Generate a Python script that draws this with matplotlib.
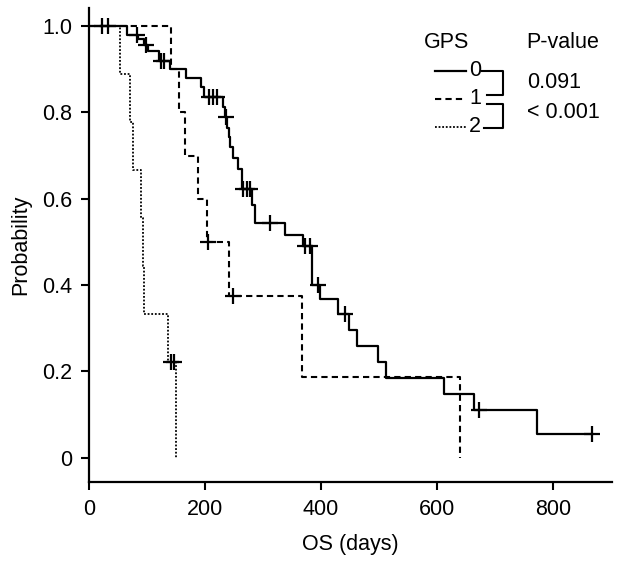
import matplotlib
matplotlib.use('Agg')
import matplotlib.pyplot as plt
from matplotlib.lines import Line2D

plt.rcParams['font.family'] = ['Liberation Sans', 'DejaVu Sans']

# Kaplan-Meier steps (days, survival after the event)
times0 = [0, 65, 85, 95, 101, 120, 140, 167, 194, 198, 232, 235, 238, 241, 244, 248,
          257, 264, 282, 287, 338, 370, 384, 398, 430, 448, 462, 499, 513, 612, 664, 772, 867]
surv0 = [1.0, 0.98, 0.97, 0.957, 0.943, 0.92, 0.90, 0.88, 0.858, 0.836, 0.812, 0.79, 0.765,
         0.742, 0.719, 0.695, 0.67, 0.622, 0.585, 0.545, 0.517, 0.49, 0.40, 0.367, 0.332,
         0.297, 0.258, 0.222, 0.185, 0.148, 0.111, 0.055, 0.055]
censor0 = [22, 33, 82, 98, 125, 130, 207, 214, 220, 236, 265, 272, 278, 312, 372, 381,
           395, 441, 672, 867]

times1 = [0, 141, 156, 165, 188, 203, 242, 367, 640]
surv1 = [1.0, 0.9, 0.8, 0.7, 0.6, 0.5, 0.375, 0.1875, 0.0]
censor1 = [206, 248]

times2 = [0, 53, 70, 76, 90, 94, 95, 137, 150]
surv2 = [1.0, 0.889, 0.778, 0.667, 0.556, 0.444, 0.333, 0.222, 0.0]
censor2 = [141, 146]

groups = ['0', '1', '2']
p_values = ['0.091', '< 0.001']

FS = 15.5


def surv_at(times, surv, t):
    val = surv[0]
    for ti, si in zip(times, surv):
        if ti <= t:
            val = si
    return val


fig = plt.figure(figsize=(6.2, 5.61), dpi=100)
ax = fig.add_axes([0.1435, 0.1408, 0.8435, 0.845])

styles = [
    dict(color='black', lw=1.6, ls='-'),
    dict(color='black', lw=1.5, ls=(0, (3, 2))),
    dict(color='black', lw=1.3, ls=(0, (1, 1))),
]
data = [(times0, surv0, censor0), (times1, surv1, censor1), (times2, surv2, censor2)]

for (t, s, c), st in zip(data, styles):
    ax.step(t, s, where='post', **st)
    cy = [surv_at(t, s, ci) for ci in c]
    ax.plot(c, cy, ls='none', marker='+', ms=11, mew=1.6, color='black')

ax.set_xlim(0, 902)
ax.set_ylim(-0.056, 1.042)
ax.set_xticks([0, 200, 400, 600, 800])
ax.set_yticks([0, 0.2, 0.4, 0.6, 0.8, 1.0])
ax.set_yticklabels(['0', '0.2', '0.4', '0.6', '0.8', '1.0'])
ax.tick_params(direction='out', length=6, width=1.5, labelsize=FS, pad=6)
for side in ['top', 'right']:
    ax.spines[side].set_visible(False)
for side in ['left', 'bottom']:
    ax.spines[side].set_linewidth(1.6)
ax.set_xlabel('OS (days)', fontsize=FS, labelpad=10)
ax.set_ylabel('Probability', fontsize=FS, labelpad=8)


# legend drawn in figure pixel coordinates
W, H = 620, 561


def fx(x):
    return x / W


def fy(y):
    return 1 - y / H


fig.text(fx(447), fy(42), 'GPS', ha='center', va='center', fontsize=FS)
fig.text(fx(563), fy(42), 'P-value', ha='center', va='center', fontsize=FS)

rows_y = [71, 99, 127]
for lab, yy, st in zip(groups, rows_y, styles):
    fig.add_artist(Line2D([fx(435), fx(466)], [fy(yy), fy(yy)], transform=fig.transFigure, **st))
    fig.text(fx(475), fy(yy), lab, ha='center', va='center', fontsize=FS)

bk = dict(color='black', lw=1.5, transform=fig.transFigure)
fig.add_artist(Line2D([fx(482), fx(503), fx(503), fx(487)],
                      [fy(71), fy(71), fy(95), fy(95)], **bk))
fig.add_artist(Line2D([fx(487), fx(503), fx(503), fx(484)],
                      [fy(104), fy(104), fy(128), fy(128)], **bk))

fig.text(fx(527), fy(83), p_values[0], ha='left', va='center', fontsize=FS)
fig.text(fx(527), fy(113), p_values[1], ha='left', va='center', fontsize=FS)

plt.savefig('out.png', dpi=100)
